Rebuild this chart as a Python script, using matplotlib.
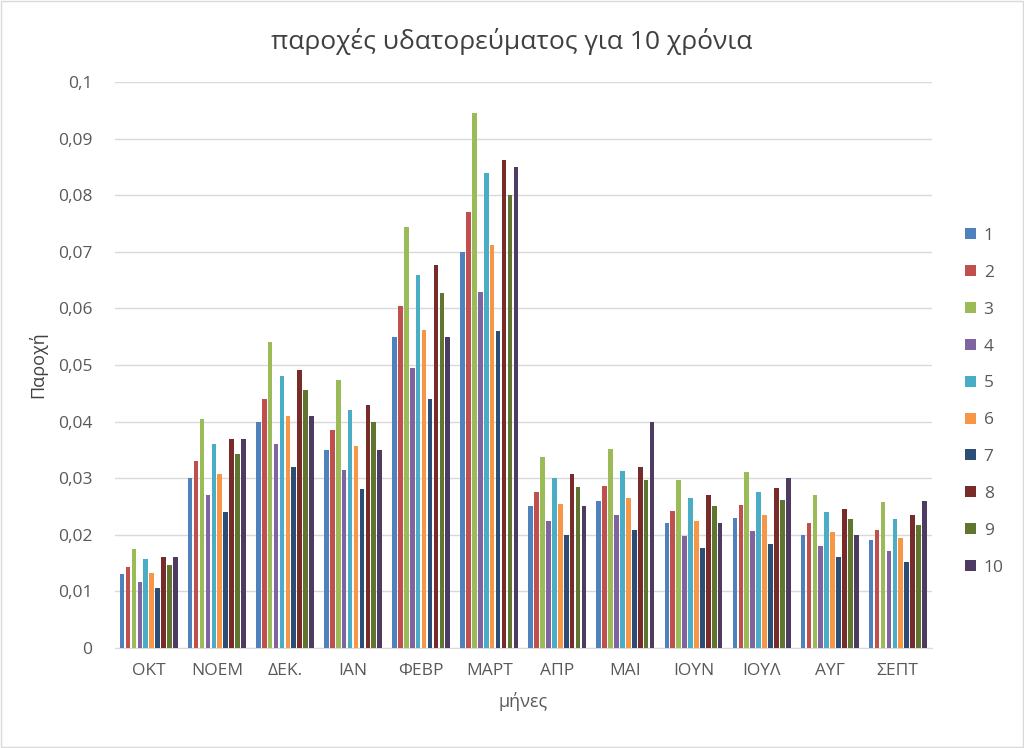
import numpy as np
import matplotlib
matplotlib.use("Agg")
import matplotlib.pyplot as plt
from matplotlib.patches import Rectangle

plt.rcParams['font.family'] = ['Open Sans', 'DejaVu Sans']

months = ["ΟΚΤ", "ΝΟΕΜ", "ΔΕΚ.", "ΙΑΝ", "ΦΕΒΡ", "ΜΑΡΤ", "ΑΠΡ", "ΜΑΙ", "ΙΟΥΝ", "ΙΟΥΛ", "ΑΥΓ", "ΣΕΠΤ"]
years = ["1", "2", "3", "4", "5", "6", "7", "8", "9", "10"]

# flow per month, one list per year
y1 = [0.0130, 0.0300, 0.0400, 0.0350, 0.0550, 0.0700, 0.0250, 0.0260, 0.0220, 0.0230, 0.0200, 0.0190]
y2 = [0.0143, 0.0330, 0.0440, 0.0385, 0.0605, 0.0770, 0.0275, 0.0286, 0.0242, 0.0253, 0.0220, 0.0209]
y3 = [0.0175, 0.0405, 0.0540, 0.0473, 0.0744, 0.0945, 0.0338, 0.0351, 0.0297, 0.0310, 0.0270, 0.0257]
y4 = [0.0117, 0.0270, 0.0360, 0.0315, 0.0495, 0.0630, 0.0225, 0.0234, 0.0198, 0.0207, 0.0180, 0.0171]
y5 = [0.0157, 0.0360, 0.0480, 0.0420, 0.0660, 0.0840, 0.0300, 0.0312, 0.0264, 0.0276, 0.0240, 0.0228]
y6 = [0.0132, 0.0307, 0.0410, 0.0356, 0.0562, 0.0713, 0.0255, 0.0265, 0.0224, 0.0234, 0.0204, 0.0194]
y7 = [0.0105, 0.0240, 0.0320, 0.0280, 0.0440, 0.0560, 0.0200, 0.0208, 0.0176, 0.0184, 0.0160, 0.0152]
y8 = [0.0160, 0.0370, 0.0492, 0.0430, 0.0676, 0.0862, 0.0308, 0.0320, 0.0271, 0.0283, 0.0246, 0.0234]
y9 = [0.0147, 0.0342, 0.0456, 0.0400, 0.0627, 0.0800, 0.0285, 0.0296, 0.0251, 0.0262, 0.0228, 0.0217]
y10 = [0.0160, 0.0370, 0.0410, 0.0350, 0.0550, 0.0850, 0.0250, 0.0400, 0.0220, 0.0300, 0.0200, 0.0260]
series = [y1, y2, y3, y4, y5, y6, y7, y8, y9, y10]

colors = ["#4F81BD", "#C0504D", "#9BBB59", "#8064A2", "#4BACC6",
          "#F79646", "#2C4D75", "#772C2A", "#5F7530", "#4D3B62"]

fig = plt.figure(figsize=(10.24, 7.48), dpi=100)
ax = fig.add_axes([0.112, 0.134, 0.798, 0.756])

x = np.arange(len(months))
pitch = 0.087
width = 0.068
for i, vals in enumerate(series):
    offs = (i - 4.5) * pitch
    ax.bar(x + offs, vals, width, color=colors[i], label=years[i], zorder=3)

ax.set_xlim(-0.5, len(months) - 0.5)
ax.set_ylim(0, 0.1)
yt = np.arange(0, 0.1001, 0.01)
ax.set_yticks(yt)
ax.set_yticklabels(["0"] + [("%.2f" % v).rstrip("0").replace(".", ",") for v in yt[1:]])
ax.set_xticks(x)
ax.set_xticklabels(months)
ax.tick_params(axis='both', length=0, labelsize=12.5, colors="#595959")
ax.tick_params(axis='x', pad=11)
ax.tick_params(axis='y', pad=16)
ax.yaxis.grid(True, color="#D9D9D9", linewidth=1, zorder=0)
for s in ["top", "right", "left"]:
    ax.spines[s].set_visible(False)
ax.spines["bottom"].set_color("#D9D9D9")

ax.set_ylabel("Παροχή", fontsize=13, color="#404040", labelpad=8)
ax.set_xlabel("μήνες", fontsize=13, color="#595959", labelpad=9)
fig.text(0.5, 0.944, "παροχές υδατορεύματος για 10 χρόνια", ha="center", va="center",
         fontsize=19, color="#404040")

leg = ax.legend(loc="center left", bbox_to_anchor=(1.022, 0.435), frameon=False,
                fontsize=12.5, labelspacing=1.2, handlelength=0.6, handleheight=0.6,
                handletextpad=0.45, labelcolor="#595959")

fig.patches.append(Rectangle((0.001, 0.001), 0.998, 0.998, transform=fig.transFigure,
                             fill=False, edgecolor="#D9D9D9", linewidth=1))

fig.savefig("out.png", dpi=100)
